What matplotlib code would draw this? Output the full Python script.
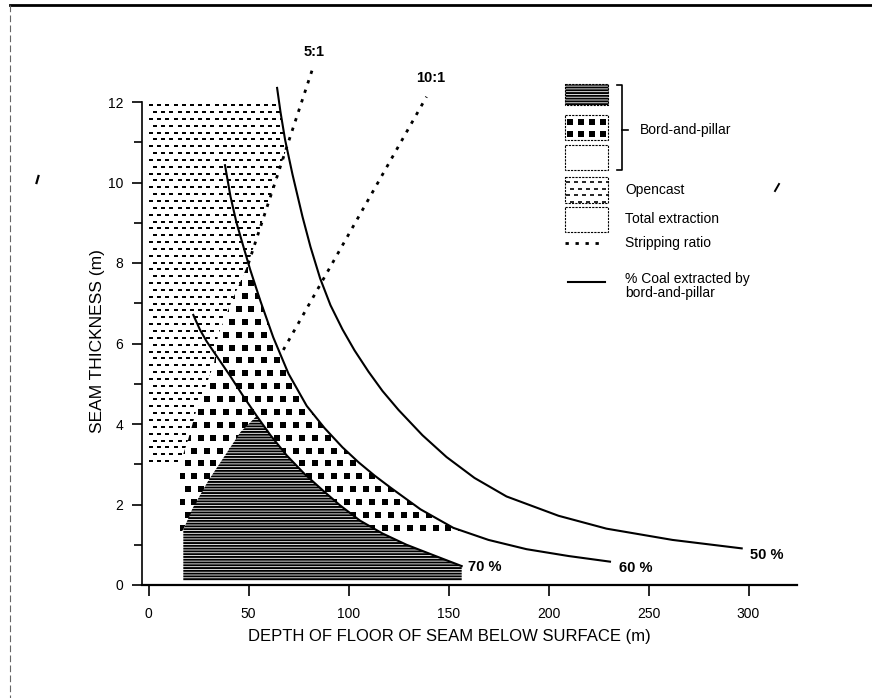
import numpy as np
import matplotlib.pyplot as plt
from matplotlib.patches import Polygon, Rectangle

plt.rcParams['font.family'] = ['Liberation Sans', 'DejaVu Sans']
plt.rcParams['hatch.linewidth'] = 1.4

# % coal extracted by bord-and-pillar: depth of floor (m) vs seam thickness (m)
C50_X = [64.3, 66, 68.3, 72, 77, 81, 85.8, 91, 97, 103, 110, 117, 125, 137, 149, 163, 179, 205, 229, 262, 296.6]
C50_Y = [12.35, 11.75, 11.06, 10.2, 9.15, 8.4, 7.62, 6.95, 6.35, 5.83, 5.3, 4.82, 4.35, 3.72, 3.18, 2.66, 2.2, 1.72, 1.4, 1.12, 0.91]
C60_X = [38.25, 41, 44, 47.5, 50.75, 56, 62.4, 70, 79.1, 88, 97, 105, 113, 121, 136, 152.4, 170, 189, 210, 230.75]
C60_Y = [10.43, 9.65, 9.0, 8.4, 7.85, 7.05, 6.15, 5.25, 4.45, 3.9, 3.42, 3.05, 2.72, 2.42, 1.88, 1.42, 1.12, 0.89, 0.72, 0.58]
C70_X = [22.4, 25.75, 29.1, 35, 40.75, 47, 54.1, 61, 69.1, 78, 87.4, 95.75, 105.75, 117, 129, 143, 156.6]
C70_Y = [6.71, 6.34, 6.05, 5.62, 5.2, 4.72, 4.2, 3.72, 3.22, 2.76, 2.34, 1.98, 1.6, 1.28, 1.0, 0.73, 0.47]

# stripping ratio lines
R5_X, R5_Y = [49.9, 82.4], [7.98, 12.88]
R10_X, R10_Y = [67.4, 139], [5.84, 12.13]

# zone boundaries
OPEN_TOP = 12
OPEN_BOTTOM = 3.0
OPEN_EDGE_X = [49.9, 45, 41, 37, 34.5, 32.5, 28, 24, 19.75, 15.75]
OPEN_EDGE_Y = [7.98, 7.45, 7.0, 6.5, 6.2, 5.5, 4.9, 4.4, 3.6, 3.0]
HATCH_EDGE_X = [17.4, 22, 30, 38, 46, 54.1]
HATCH_EDGE_Y = [1.37, 1.9, 2.6, 3.2, 3.8, 4.2]
RIGHT_EDGE = 156.6
HATCH_FLOOR = 0.1

fig = plt.figure(figsize=(8.72, 6.98), dpi=100)
ax = fig.add_axes([141.5 / 872, 113 / 698, 655 / 872, 563.5 / 698])
ax.set_xlim(-3.5, 324)
ax.set_ylim(0, 14)

c50x, c50y = np.array(C50_X), np.array(C50_Y)
c60x, c60y = np.array(C60_X), np.array(C60_Y)
c70x, c70y = np.array(C70_X), np.array(C70_Y)

# --- opencast zone (dashes)
m50 = (c50x > 64.6) & (c50x < 69)
open_pts = ([(0, OPEN_BOTTOM), (0, OPEN_TOP), (64.6, OPEN_TOP)]
            + list(zip(c50x[m50], c50y[m50])) + [(69.1, 10.88)]
            + list(zip(OPEN_EDGE_X, OPEN_EDGE_Y)))
open_poly = Polygon(open_pts, closed=True, fill=False, lw=0)
ax.add_patch(open_poly)

# --- bord-and-pillar squares zone
m60 = (c60x > 49.9) & (c60x < RIGHT_EDGE)
m70 = (c70x > 54.1) & (c70x < RIGHT_EDGE)
sq_pts = ([(15.75, 1.3)] + list(zip(OPEN_EDGE_X[::-1], OPEN_EDGE_Y[::-1]))
          + list(zip(c60x[m60], c60y[m60])) + [(RIGHT_EDGE, 1.33), (RIGHT_EDGE, c70y[-1])]
          + list(zip(c70x[m70][::-1], c70y[m70][::-1]))
          + list(zip(HATCH_EDGE_X[::-1], HATCH_EDGE_Y[::-1])))
sq_poly = Polygon(sq_pts, closed=True, fill=False, lw=0)
ax.add_patch(sq_poly)

# --- bord-and-pillar horizontal-line zone
hz_pts = ([(17.4, HATCH_FLOOR)] + list(zip(HATCH_EDGE_X, HATCH_EDGE_Y))
          + list(zip(c70x[m70], c70y[m70])) + [(RIGHT_EDGE, c70y[-1]), (RIGHT_EDGE, HATCH_FLOOR)])
ax.add_patch(Polygon(hz_pts, closed=True, fill=False, lw=0, hatch='------', edgecolor='k'))


def texture(axis, clip, xs, ys, marker, ms, mew, stagger):
    gx, gy = np.meshgrid(xs, ys)
    if stagger:
        gx = gx + (np.arange(len(ys))[:, None] % 2) * (xs[1] - xs[0]) / 2
    ln, = axis.plot(gx.ravel(), gy.ravel(), ls='none', marker=marker, ms=ms,
                    mew=mew, color='k', mec='k')
    ln.set_clip_path(clip)
    return ln


texture(ax, open_poly, np.arange(1.2, 72, 4.1), np.arange(3.08, 12, 0.17), '_', 3.0, 1.2, True)
texture(ax, sq_poly, np.arange(16.5, 158, 6.35), np.arange(1.42, 8.2, 0.32), 's', 4.3, 0, True)

# curves
for cx, cy in [(C50_X, C50_Y), (C60_X, C60_Y), (C70_X, C70_Y)]:
    ax.plot(cx, cy, color='k', lw=1.5, clip_on=False, zorder=4, solid_joinstyle='round')
for rx, ry in [(R5_X, R5_Y), (R10_X, R10_Y)]:
    ax.plot(rx, ry, color='k', lw=2, ls=(0, (1.2, 2.4)), clip_on=False, zorder=4)

ax.text(83, 13.25, '5:1', ha='center', va='center', fontsize=10.5, fontweight='bold')
ax.text(141, 12.6, '10:1', ha='center', va='center', fontsize=10.5, fontweight='bold')
ax.text(159.5, 0.45, '70 %', ha='left', va='center', fontsize=10.5, fontweight='bold')
ax.text(235, 0.42, '60 %', ha='left', va='center', fontsize=10.5, fontweight='bold')
ax.text(300.5, 0.75, '50 %', ha='left', va='center', fontsize=10.5, fontweight='bold')

for s in ['top', 'right']:
    ax.spines[s].set_visible(False)
ax.spines['left'].set_bounds(0, 12)
ax.spines['left'].set_linewidth(1.2)
ax.spines['bottom'].set_linewidth(1.6)
ax.set_xticks(range(0, 301, 50))
ax.set_yticks(range(0, 13, 2))
ax.set_yticks(range(1, 12, 2), minor=True)
ax.tick_params(axis='x', direction='out', length=8, width=1.2, labelsize=10, pad=8)
ax.tick_params(axis='y', which='major', direction='out', length=7, width=1.2, labelsize=10, pad=6)
ax.tick_params(axis='y', which='minor', direction='out', length=6, width=1.2)

fig.text(449 / 872, 1 - 636 / 698, 'DEPTH OF FLOOR OF SEAM BELOW SURFACE (m)',
         ha='center', va='center', fontsize=12)
fig.text(97 / 872, 1 - 341 / 698, 'SEAM THICKNESS (m)', rotation=90,
         ha='center', va='center', fontsize=12.5)

# overlay in pixel coordinates: page frame and key
lax = fig.add_axes([0, 0, 1, 1], facecolor='none')
lax.set_xlim(0, 872)
lax.set_ylim(698, 0)
lax.axis('off')
lax.plot([10, 872], [5, 5], color='k', lw=2)
lax.plot([10, 10], [5, 698], color='0.4', lw=0.8, ls=(0, (6, 3)))
lax.plot([36.5, 38.5], [183, 176], color='k', lw=1.6)
lax.plot([775, 779], [191, 184], color='k', lw=1.4)

box = dict(fill=False, edgecolor='k', lw=0.8, ls=(0, (2, 1)))
lax.add_patch(Rectangle((565, 84), 43, 21, hatch='------', **box))
r2 = Rectangle((565, 115), 43, 25, **box)
lax.add_patch(r2)
texture(lax, r2, np.arange(570, 608, 11), np.arange(122, 140, 12), 's', 4.2, 0, False)
lax.add_patch(Rectangle((565, 145), 43, 25, **box))
r4 = Rectangle((565, 177), 43, 26, **box)
lax.add_patch(r4)
texture(lax, r4, np.arange(568, 610, 8), np.arange(182, 203, 6.5), '_', 3.0, 1.2, True)
lax.add_patch(Rectangle((565, 207), 43, 25, **box))

lax.plot([617, 622, 622, 617], [85, 85, 170, 170], color='k', lw=1.2)
lax.plot([622, 628], [130, 130], color='k', lw=1.2)
fs = 10
lax.text(640, 130, 'Bord-and-pillar', va='center', fontsize=fs)
lax.text(625, 190, 'Opencast', va='center', fontsize=fs)
lax.text(625, 219, 'Total extraction', va='center', fontsize=fs)
lax.plot([565, 603], [243, 243], color='k', lw=2, ls=(0, (1.2, 2.4)))
lax.text(625, 243, 'Stripping ratio', va='center', fontsize=fs)
lax.plot([568, 605], [282, 282], color='k', lw=1.5)
lax.text(625, 286, '% Coal extracted by\nbord-and-pillar', va='center', fontsize=fs,
         linespacing=0.95)

fig.savefig('out.png', dpi=100)
